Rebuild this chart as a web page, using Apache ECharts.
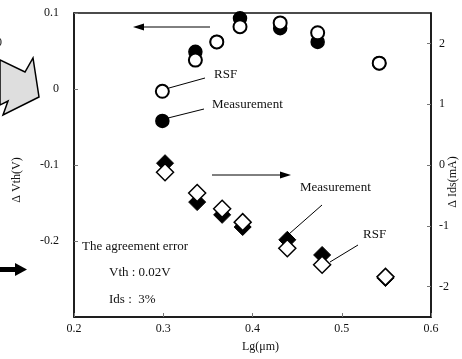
<!DOCTYPE html>
<html>
<head>
<meta charset="utf-8">
<script src="https://cdn.jsdelivr.net/npm/echarts@6/dist/echarts.min.js"></script>
<style>
  html, body { margin: 0; padding: 0; background: #fff; }
  #chart { width: 462px; height: 359px; }
</style>
</head>
<body>
<div id="chart"></div>
<script>
// Gate length (µm) for each device, threshold-voltage shift and drain-current shift
const lgVth = [0.299, 0.336, 0.360, 0.386, 0.431, 0.473, 0.542];
const vthMeasurement = [-0.042, 0.049, 0.062, 0.093, 0.080, 0.062, 0.034];
const vthRsf = [-0.003, 0.038, 0.062, 0.082, 0.087, 0.074, 0.034];

const lgIds = [0.302, 0.338, 0.366, 0.389, 0.439, 0.478, 0.549];
const idsMeasurement = [0.03, -0.61, -0.82, -1.02, -1.23, -1.48, -1.86];
const idsRsf = [-0.12, -0.46, -0.72, -0.94, -1.37, -1.64, -1.84];

const xTicks = [0.2, 0.3, 0.4, 0.5, 0.6];
const vthTicks = [0.1, 0, -0.1, -0.2];
const idsTicks = [2, 1, 0, -1, -2];

const zip = (xs, ys) => xs.map((x, i) => [x, ys[i]]);

const serif = 'Liberation Serif';
const ink = '#111';
const noteFont = '13px ' + serif;

const chart = echarts.init(document.getElementById('chart'), null, { renderer: 'canvas' });

const tickStyle = { show: true, inside: true, length: 4, lineStyle: { color: '#777', width: 1 } };
const frameLine = { show: true, onZero: false, lineStyle: { color: '#111', width: 1.5 } };

chart.setOption({
  animation: false,
  backgroundColor: '#fff',
  grid: {
    left: 74, right: 31, top: 13, bottom: 42,
    outerBoundsMode: 'none',
    show: true, borderColor: '#111', borderWidth: 1.5, backgroundColor: 'transparent'
  },
  xAxis: {
    type: 'value', min: 0.2, max: 0.6, interval: 0.1,
    name: 'Lg(\u03bcm)', nameLocation: 'middle', nameGap: 24, nameMoveOverlap: false,
    nameTextStyle: { fontFamily: serif, fontSize: 12, color: ink, padding: [0, 0, 0, 16] },
    axisLine: frameLine,
    axisTick: Object.assign({ customValues: xTicks }, tickStyle),
    axisLabel: {
      customValues: xTicks, margin: 6,
      fontFamily: serif, fontSize: 12, color: ink,
      formatter: v => v.toFixed(1)
    },
    splitLine: { show: false }
  },
  yAxis: [
    {
      type: 'value', min: -0.3, max: 0.1, interval: 0.1, position: 'left',
      name: '\u0394 Vth(V)', nameLocation: 'middle', nameGap: 51, nameRotate: 90, nameMoveOverlap: false,
      nameTextStyle: { fontFamily: serif, fontSize: 12, color: ink, padding: [0, 30, 0, 0] },
      axisLine: frameLine,
      axisTick: Object.assign({ customValues: vthTicks }, tickStyle),
      axisLabel: {
        customValues: vthTicks, margin: 15,
        fontFamily: serif, fontSize: 12, color: ink,
        formatter: v => (Math.abs(v) < 1e-9 ? '0' : v.toFixed(1))
      },
      splitLine: { show: false }
    },
    {
      type: 'value', min: -2.5, max: 2.5, position: 'right',
      name: '\u0394 Ids(mA)', nameLocation: 'middle', nameGap: 16, nameRotate: 90, nameMoveOverlap: false,
      nameTextStyle: { fontFamily: serif, fontSize: 12, color: ink, padding: [0, 34, 0, 0] },
      axisLine: frameLine,
      axisTick: Object.assign({ customValues: idsTicks }, tickStyle),
      axisLabel: {
        customValues: idsTicks, margin: 8,
        fontFamily: serif, fontSize: 12, color: ink,
        formatter: v => String(Math.round(v))
      },
      splitLine: { show: false }
    }
  ],
  series: [
    {
      name: 'Vth Measurement', type: 'scatter', yAxisIndex: 0,
      symbol: 'circle', symbolSize: 13,
      itemStyle: { color: '#000', borderColor: '#000', borderWidth: 1.5, opacity: 1 },
      data: zip(lgVth, vthMeasurement)
    },
    {
      name: 'Ids Measurement', type: 'scatter', yAxisIndex: 1,
      symbol: 'diamond', symbolSize: 17,
      itemStyle: { color: '#000', borderColor: '#000', borderWidth: 1, opacity: 1 },
      data: zip(lgIds, idsMeasurement)
    },
    {
      name: 'Vth RSF', type: 'scatter', yAxisIndex: 0,
      symbol: 'circle', symbolSize: 13,
      itemStyle: { color: '#fff', borderColor: '#000', borderWidth: 2, opacity: 1 },
      data: zip(lgVth, vthRsf)
    },
    {
      name: 'Ids RSF', type: 'scatter', yAxisIndex: 1,
      symbol: 'diamond', symbolSize: 17,
      itemStyle: { color: '#fff', borderColor: '#000', borderWidth: 1.5, opacity: 1 },
      data: zip(lgIds, idsRsf)
    }
  ],
  graphic: [
    // big grey block arrow at the left margin
    { type: 'polygon', shape: { points: [[0, 60], [25, 72], [33, 58], [39, 97], [3, 115], [8, 101], [0, 105]] },
      style: { fill: '#dedede', stroke: '#000', lineWidth: 1.5 } },
    { type: 'text', left: -4, top: 37, style: { text: '0', font: '12px ' + serif, fill: ink } },
    // solid black arrow at lower left
    { type: 'rect', shape: { x: 0, y: 267, width: 16, height: 5 }, style: { fill: '#000' } },
    { type: 'polygon', shape: { points: [[15, 263], [27, 269.5], [15, 276]] }, style: { fill: '#000' } },

    // arrow pointing to the left (Vth) axis
    { type: 'line', shape: { x1: 210, y1: 27, x2: 140, y2: 27 }, style: { stroke: '#000', lineWidth: 1 } },
    { type: 'polygon', shape: { points: [[133, 27], [144, 23.5], [144, 30.5]] }, style: { fill: '#000' } },
    // arrow pointing to the right (Ids) axis
    { type: 'line', shape: { x1: 212, y1: 175, x2: 282, y2: 175 }, style: { stroke: '#000', lineWidth: 1 } },
    { type: 'polygon', shape: { points: [[291, 175], [280, 171.5], [280, 178.5]] }, style: { fill: '#000' } },

    // callouts for the Vth series
    { type: 'line', shape: { x1: 169, y1: 88, x2: 205, y2: 78 }, style: { stroke: '#000', lineWidth: 1 } },
    { type: 'text', x: 214, y: 75, style: { text: 'RSF', font: noteFont, fill: ink, verticalAlign: 'middle' } },
    { type: 'line', shape: { x1: 168, y1: 118, x2: 204, y2: 109 }, style: { stroke: '#000', lineWidth: 1 } },
    { type: 'text', x: 212, y: 105, style: { text: 'Measurement', font: noteFont, fill: ink, verticalAlign: 'middle' } },

    // callouts for the Ids series
    { type: 'text', x: 300, y: 188, style: { text: 'Measurement', font: noteFont, fill: ink, verticalAlign: 'middle' } },
    { type: 'line', shape: { x1: 289, y1: 234, x2: 322, y2: 205 }, style: { stroke: '#000', lineWidth: 1 } },
    { type: 'text', x: 363, y: 235, style: { text: 'RSF', font: noteFont, fill: ink, verticalAlign: 'middle' } },
    { type: 'line', shape: { x1: 330, y1: 262, x2: 358, y2: 245 }, style: { stroke: '#000', lineWidth: 1 } },

    // agreement summary
    { type: 'text', x: 82, y: 247, style: { text: 'The agreement error', font: noteFont, fill: ink, verticalAlign: 'middle' } },
    { type: 'text', x: 109, y: 273, style: { text: 'Vth : 0.02V', font: noteFont, fill: ink, verticalAlign: 'middle' } },
    { type: 'text', x: 109, y: 300, style: { text: 'Ids :  3%', font: noteFont, fill: ink, verticalAlign: 'middle' } }
  ]
});
</script>
</body>
</html>
